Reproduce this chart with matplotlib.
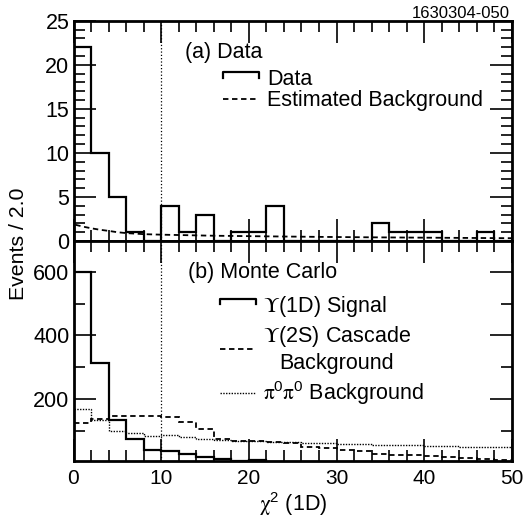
import numpy as np
import matplotlib
matplotlib.use("Agg")
from matplotlib import pyplot as plt
from matplotlib.lines import Line2D
from matplotlib.legend_handler import HandlerBase
from matplotlib.ticker import MultipleLocator

plt.rcParams['font.family'] = ['Liberation Sans', 'DejaVu Sans']
plt.rcParams['mathtext.fontset'] = 'custom'
plt.rcParams['mathtext.rm'] = 'Liberation Sans'
plt.rcParams['mathtext.it'] = 'Liberation Sans:italic'
plt.rcParams['mathtext.cal'] = 'STIXGeneral'

# bin edges, chi2 in steps of 2
edges = np.arange(0, 52, 2)

# (a) data
data_counts = [22, 10, 5, 1, 0, 4, 1, 3, 0, 1, 1, 4, 0, 0, 0, 0, 0, 2, 1, 1, 1, 0, 0, 1, 0]
bg_x = [0.2, 1, 2, 3, 4, 5, 6, 8, 10, 12, 16, 22, 28, 34, 40, 50]
bg_y = [1.85, 1.65, 1.45, 1.28, 1.15, 1.0, 0.9, 0.78, 0.72, 0.68, 0.6, 0.53, 0.47, 0.42, 0.38, 0.32]

# (b) monte carlo
signal = [600, 313, 133, 73, 40, 35, 26, 15, 10, 5, 8, 2, 2, 1, 1, 0, 0, 0, 0, 0, 0, 0, 0, 0, 0]
cascade = [123, 136, 146, 147, 147, 142, 126, 104, 73, 67, 66, 64, 60, 48, 45, 40, 36, 27, 24, 23, 19, 15, 13, 9, 7]
pipi = [167, 134, 100, 92, 84, 86, 80, 74, 70, 66, 66, 65, 64, 62, 60, 58, 56, 54, 54, 53, 51, 50, 49, 48, 47]

cut = 10
fs = 15.5


class HandlerStep(HandlerBase):
    def create_artists(self, legend, orig_handle, xdescent, ydescent,
                       width, height, fontsize, trans):
        lo, hi = height * 0.5, height * 0.85
        ln = Line2D([-xdescent, -xdescent, width - xdescent, width - xdescent],
                    [lo, hi, hi, lo], color='black', lw=orig_handle.get_linewidth(),
                    transform=trans)
        return [ln]


def style(ax):
    for s in ax.spines.values():
        s.set_linewidth(2)
    ax.tick_params(which='both', direction='in', top=True, right=True,
                   width=1.2, colors='black')
    ax.tick_params(which='major', length=16)
    ax.tick_params(which='minor', length=8)
    ax.xaxis.set_major_locator(MultipleLocator(10))
    ax.xaxis.set_minor_locator(MultipleLocator(2))
    ax.set_xlim(0, 50)


fig = plt.figure(figsize=(5.25, 5.2), dpi=100)
ax1 = fig.add_axes([0.14, 0.5365, 0.835, 0.4237])
ax2 = fig.add_axes([0.14, 0.1135, 0.835, 0.423])

# upper panel
style(ax1)
ax1.stairs(data_counts, edges, baseline=0, color='black', lw=1.6)
h2, = ax1.plot(bg_x, bg_y, ls=(0, (3, 2)), color='black', lw=1.3)
ax1.axvline(cut, color='black', ls=':', lw=0.9)
ax1.set_ylim(0, 25)
ax1.yaxis.set_major_locator(MultipleLocator(5))
ax1.yaxis.set_minor_locator(MultipleLocator(1))
ax1.tick_params(axis='x', labelbottom=False)
ax1.tick_params(axis='y', labelsize=15.5, pad=3)
ax1.text(0.254, 0.855, '(a) Data', transform=ax1.transAxes, fontsize=fs, va='center')
step1 = Line2D([], [], color='black', lw=1.6)
ax1.legend([step1, h2], ['Data', 'Estimated Background'],
           handler_map={step1: HandlerStep()}, loc='upper left',
           bbox_to_anchor=(0.341, 0.78), frameon=False, fontsize=fs,
           borderpad=0, borderaxespad=0, handlelength=1.67, handletextpad=0.37,
           labelspacing=0.0)

# lower panel
style(ax2)
ax2.stairs(signal, edges, baseline=None, color='black', lw=1.6)
ax2.stairs(cascade, edges, baseline=None, color='black', lw=1.3, ls=(0, (3, 2)))
ax2.stairs(pipi, edges, baseline=None, color='black', lw=1.0, ls=(0, (1, 1)))
ax2.axvline(cut, color='black', ls=':', lw=0.9)
ax2.set_ylim(4, 697)
ax2.yaxis.set_major_locator(MultipleLocator(200))
ax2.yaxis.set_minor_locator(MultipleLocator(100))
ax2.tick_params(axis='y', labelsize=15.5, pad=3)
ax2.tick_params(axis='x', labelsize=15, pad=6)
ax2.text(0.261, 0.855, '(b) Monte Carlo', transform=ax2.transAxes, fontsize=fs, va='center')
step2 = Line2D([], [], color='black', lw=1.6)
lc = Line2D([], [], color='black', lw=1.3, ls=(0, (3, 2)))
lp = Line2D([], [], color='black', lw=1.0, ls=(0, (1, 1)))
labels2 = [r'$\mathcal{\Upsilon}$(1D) Signal',
           '$\\mathcal{\\Upsilon}$(2S) Cascade\nBackground',
           r'$\mathcal{\pi}^0\mathcal{\pi}^0$ Background']
leg = ax2.legend([step2, lc, lp], labels2,
                 handler_map={step2: HandlerStep()}, loc='upper left',
                 bbox_to_anchor=(0.335, 0.76), frameon=False, fontsize=fs,
                 borderpad=0, borderaxespad=0, handlelength=1.67, handletextpad=0.3,
                 labelspacing=0.26)
for t in leg.get_texts():
    t.set_multialignment('center')

ax2.set_xlabel(r'$\mathcal{\chi}^2$ (1D)', fontsize=fs, labelpad=1)
fig.text(0.035, 0.531, 'Events / 2.0', rotation=90, fontsize=15.3, ha='center', va='center')
fig.text(0.971, 0.975, '1630304-050', fontsize=12, ha='right', va='center')

fig.savefig('out.png', dpi=100)
